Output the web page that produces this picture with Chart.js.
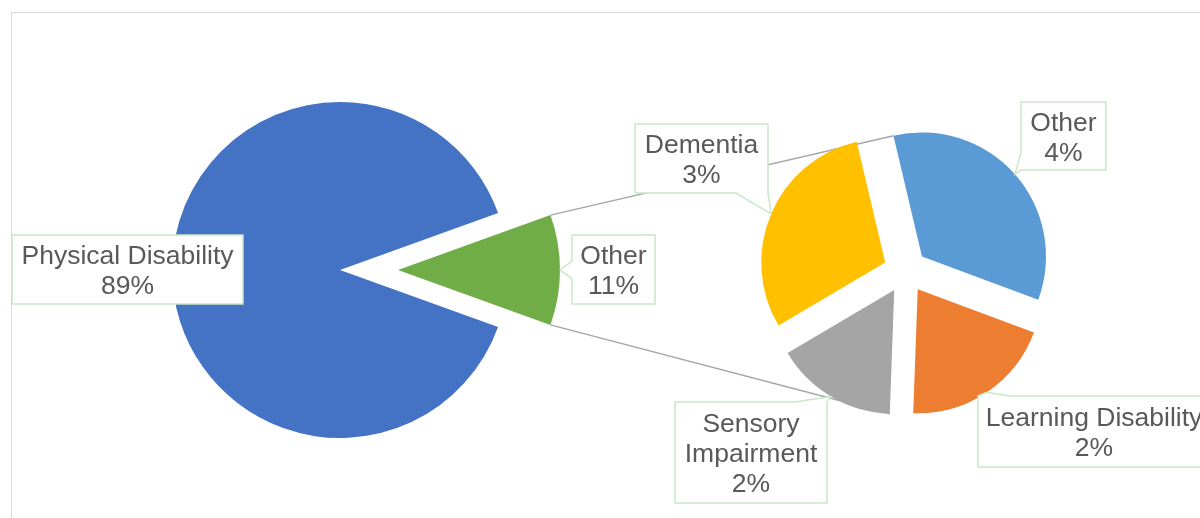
<!DOCTYPE html>
<html>
<head>
<meta charset="utf-8">
<script src="https://cdn.jsdelivr.net/npm/chart.js@4.4.1/dist/chart.umd.min.js"></script>
<style>
  html, body { margin: 0; padding: 0; background: #fff; overflow: hidden; }
  #wrap { position: relative; width: 1200px; height: 518px; }
  #wrap canvas { position: absolute; left: 0; top: 0; }
</style>
</head>
<body>
<div id="wrap">
  <canvas id="mainPie" width="1200" height="518"></canvas>
  <canvas id="subPie" width="1200" height="518"></canvas>
</div>
<script>
// data (percent of all cases)
const mainLabels = ["Physical Disability", "Other"];
const mainValues = [89, 11];
const subLabels = ["Other", "Learning Disability", "Sensory Impairment", "Dementia"];
const subValues = [3.78, 2.19, 1.75, 3.28];

// styling / layout
const mainColors = ["#4472C4", "#70AD47"];
const subColors = ["#5B9BD5", "#ED7D31", "#A5A5A5", "#FFC000"];
const mainRadius = 168;
const mainExplode = [0, 58];
const explodedRadius = 162;
const subRadius = 124;
const subExplode = [22, 22, 22, 22];
const subRotation = -13.3;

const mainBoxes = [
    { x: 12, y: 235, w: 231, h: 69, edge: null },
    { x: 572, y: 235, w: 83, h: 69, edge: "left" }
];
const subBoxes = [
    { x: 1021, y: 102, w: 85, h: 68, edge: "left" },
    { x: 978, y: 396, w: 232, h: 71, edge: "top" },
    { x: 675, y: 402, w: 152, h: 101, edge: "top" },
    { x: 635, y: 124, w: 133, h: 69, edge: "bottom" }
];

const FONT_SIZE = 26.5;
const FONT = FONT_SIZE + 'px "Liberation Sans", Arial, sans-serif';
const TEXT_COLOR = "#595959";
const BOX_BORDER = "#C8E8C8";
const LINE_COLOR = "#A6A6A6";

function explode(chart, amounts) {
    chart.getDatasetMeta(0).data.forEach((arc, i) => {
        const mid = (arc.startAngle + arc.endAngle) / 2;
        arc.x += Math.cos(mid) * amounts[i];
        arc.y += Math.sin(mid) * amounts[i];
    });
}

function rimPoint(arc, angle) {
    return { x: arc.x + Math.cos(angle) * arc.outerRadius, y: arc.y + Math.sin(angle) * arc.outerRadius };
}

function wrapText(ctx, text, maxW) {
    const words = text.split(" ");
    const lines = [];
    let cur = "";
    words.forEach(wd => {
        const test = cur ? cur + " " + wd : wd;
        if (cur && ctx.measureText(test).width > maxW) {
            lines.push(cur);
            cur = wd;
        } else {
            cur = test;
        }
    });
    lines.push(cur);
    return lines;
}

function clamp(v, lo, hi) { return Math.max(lo, Math.min(hi, v)); }

function drawCallout(ctx, box, tip, lines) {
    const { x, y, w, h, edge } = box;
    const pts = [];
    const bw = (len) => Math.min(32, len * 0.25);
    pts.push([x, y]);
    if (edge === "top") {
        const b = bw(w), b0 = clamp(tip.x - b / 2, x, x + w - b);
        pts.push([b0, y], [tip.x, tip.y], [b0 + b, y]);
    }
    pts.push([x + w, y]);
    if (edge === "right") {
        const b = bw(h), b0 = clamp(tip.y - b / 2, y, y + h - b);
        pts.push([x + w, b0], [tip.x, tip.y], [x + w, b0 + b]);
    }
    pts.push([x + w, y + h]);
    if (edge === "bottom") {
        const b = bw(w), b0 = clamp(tip.x - b / 2, x, x + w - b);
        pts.push([b0 + b, y + h], [tip.x, tip.y], [b0, y + h]);
    }
    pts.push([x, y + h]);
    if (edge === "left") {
        const b = bw(h), b0 = clamp(tip.y - b / 2, y, y + h - b);
        pts.push([x, b0 + b], [tip.x, tip.y], [x, b0]);
    }
    ctx.save();
    ctx.beginPath();
    pts.forEach((p, i) => i ? ctx.lineTo(p[0], p[1]) : ctx.moveTo(p[0], p[1]));
    ctx.closePath();
    ctx.fillStyle = "#fff";
    ctx.fill();
    ctx.lineWidth = 1.5;
    ctx.strokeStyle = BOX_BORDER;
    ctx.stroke();

    ctx.font = FONT;
    ctx.fillStyle = TEXT_COLOR;
    ctx.textAlign = "center";
    ctx.textBaseline = "alphabetic";
    const lh = 30;
    const cx = x + w / 2, cy = y + h / 2;
    lines.forEach((ln, i) => {
        ctx.fillText(ln, cx, cy + (i - (lines.length - 1) / 2) * lh + FONT_SIZE * 0.36);
    });
    ctx.restore();
}

function drawLabels(chart, labels, values, boxes) {
    const ctx = chart.ctx;
    ctx.font = FONT;
    chart.getDatasetMeta(0).data.forEach((arc, i) => {
        const mid = (arc.startAngle + arc.endAngle) / 2;
        const tip = rimPoint(arc, mid);
        const lines = wrapText(ctx, labels[i], boxes[i].w - 8);
        lines.push(Math.round(values[i]) + "%");
        drawCallout(ctx, boxes[i], tip, lines);
    });
}

const mainChart = new Chart(document.getElementById("mainPie"), {
    type: "pie",
    data: {
        labels: mainLabels,
        datasets: [{ data: mainValues, backgroundColor: mainColors, borderWidth: 0, clip: false }]
    },
    options: {
        responsive: false,
        animation: false,
        events: [],
        devicePixelRatio: 1,
        radius: mainRadius,
        // center the small slice on the right side
        rotation: 90 + mainValues[1] / (mainValues[0] + mainValues[1]) * 180,
        layout: { padding: { top: 22, right: 520, left: 0, bottom: 0 } },
        plugins: { legend: { display: false }, tooltip: { enabled: false } }
    },
    plugins: [{
        id: "pieLayout",
        beforeDraw(chart) {
            const ctx = chart.ctx;
            ctx.save();
            ctx.strokeStyle = "#D9D9D9";
            ctx.lineWidth = 1;
            ctx.strokeRect(11.5, 12.5, 1400, 700);
            ctx.restore();
        },
        afterDatasetsUpdate(chart) {
            explode(chart, mainExplode);
            chart.getDatasetMeta(0).data[1].outerRadius = explodedRadius;
        },
        afterDatasetsDraw(chart) {
            drawLabels(chart, mainLabels, mainValues, mainBoxes);
        }
    }]
});

new Chart(document.getElementById("subPie"), {
    type: "pie",
    data: {
        labels: subLabels,
        datasets: [{ data: subValues, backgroundColor: subColors, borderWidth: 0, clip: false }]
    },
    options: {
        responsive: false,
        animation: false,
        events: [],
        devicePixelRatio: 1,
        radius: subRadius,
        rotation: subRotation,
        layout: { padding: { top: 24, left: 611, right: 0, bottom: 0 } },
        plugins: { legend: { display: false }, tooltip: { enabled: false } }
    },
    plugins: [{
        id: "subLayout",
        afterDatasetsUpdate(chart) {
            explode(chart, subExplode);
        },
        beforeDatasetsDraw(chart) {
            // connector lines from the split slice to the secondary pie
            const green = mainChart.getDatasetMeta(0).data[1];
            const arcs = chart.getDatasetMeta(0).data;
            const a1 = rimPoint(green, green.startAngle);
            const a2 = rimPoint(green, green.endAngle);
            const b1 = rimPoint(arcs[0], arcs[0].startAngle);
            const b2 = rimPoint(arcs[2], arcs[2].startAngle);
            const ctx = chart.ctx;
            ctx.save();
            ctx.strokeStyle = LINE_COLOR;
            ctx.lineWidth = 1.5;
            ctx.beginPath();
            ctx.moveTo(a1.x, a1.y);
            ctx.lineTo(b1.x, b1.y);
            ctx.moveTo(a2.x, a2.y);
            ctx.lineTo(b2.x, b2.y);
            ctx.stroke();
            ctx.restore();
        },
        afterDatasetsDraw(chart) {
            drawLabels(chart, subLabels, subValues, subBoxes);
        }
    }]
});
</script>
</body>
</html>
